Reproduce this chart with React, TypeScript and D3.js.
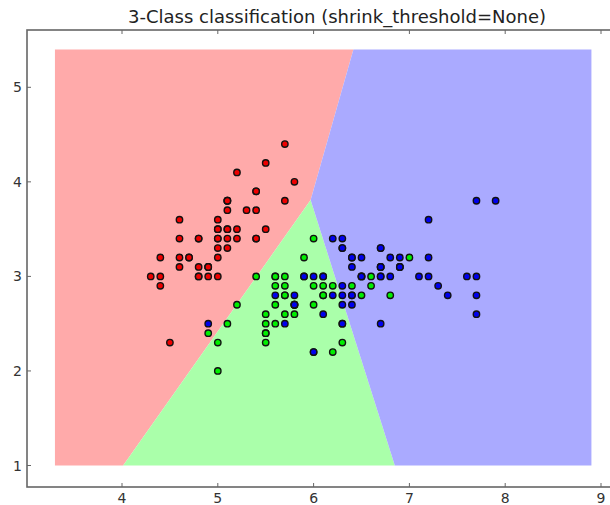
import React from "react";
import * as d3 from "d3";

// Iris data: sepal length, sepal width
const setosaX = [5.1,4.9,4.7,4.6,5.0,5.4,4.6,5.0,4.4,4.9,5.4,4.8,4.8,4.3,5.8,5.7,5.4,5.1,5.7,5.1,5.4,5.1,4.6,5.1,4.8,5.0,5.0,5.2,5.2,4.7,4.8,5.4,5.2,5.5,4.9,5.0,5.5,4.9,4.4,5.1,5.0,4.5,4.4,5.0,5.1,4.8,5.1,4.6,5.3,5.0];
const setosaY = [3.5,3.0,3.2,3.1,3.6,3.9,3.4,3.4,2.9,3.1,3.7,3.4,3.0,3.0,4.0,4.4,3.9,3.5,3.8,3.8,3.4,3.7,3.6,3.3,3.4,3.0,3.4,3.5,3.4,3.2,3.1,3.4,4.1,4.2,3.1,3.2,3.5,3.1,3.0,3.4,3.5,2.3,3.2,3.5,3.8,3.0,3.8,3.2,3.7,3.3];
const versicolorX = [7.0,6.4,6.9,5.5,6.5,5.7,6.3,4.9,6.6,5.2,5.0,5.9,6.0,6.1,5.6,6.7,5.6,5.8,6.2,5.6,5.9,6.1,6.3,6.1,6.4,6.6,6.8,6.7,6.0,5.7,5.5,5.5,5.8,6.0,5.4,6.0,6.7,6.3,5.6,5.5,5.5,6.1,5.8,5.0,5.6,5.7,5.7,6.2,5.1,5.7];
const versicolorY = [3.2,3.2,3.1,2.3,2.8,2.8,3.3,2.4,2.9,2.7,2.0,3.0,2.2,2.9,2.9,3.1,3.0,2.7,2.2,2.5,3.2,2.8,2.5,2.8,2.9,3.0,2.8,3.0,2.9,2.6,2.4,2.4,2.7,2.7,3.0,3.4,3.1,2.3,3.0,2.5,2.6,3.0,2.6,2.3,2.7,3.0,2.9,2.9,2.5,2.8];
const virginicaX = [6.3,5.8,7.1,6.3,6.5,7.6,4.9,7.3,6.7,7.2,6.5,6.4,6.8,5.7,5.8,6.4,6.5,7.7,7.7,6.0,6.9,5.6,7.7,6.3,6.7,7.2,6.2,6.1,6.4,7.2,7.4,7.9,6.4,6.3,6.1,7.7,6.3,6.4,6.0,6.9,6.7,6.9,5.8,6.8,6.7,6.7,6.3,6.5,6.2,5.9];
const virginicaY = [3.3,2.7,3.0,2.9,3.0,3.0,2.5,2.9,2.5,3.6,3.2,2.7,3.0,2.5,2.8,3.2,3.0,3.8,2.6,2.2,3.2,2.8,2.8,2.7,3.3,3.2,2.8,3.0,2.8,3.0,2.8,3.8,2.8,2.8,2.6,3.0,3.4,3.1,3.0,3.1,3.1,3.1,2.7,3.2,3.3,3.0,2.5,3.0,3.4,3.0];

const xTicks = [4, 5, 6, 7, 8, 9];
const yTicks = [1, 2, 3, 4, 5];
const title = "3-Class classification (shrink_threshold=None)";
const meshBounds = [3.3, 1.0, 8.9, 5.4]; // x_min, y_min, x_max, y_max
const lightColors = ["#FFAAAA", "#AAFFAA", "#AAAAFF"];
const boldColors = ["#EE0000", "#00EE00", "#0000EE"];

const classes = [
  { xs: setosaX, ys: setosaY },
  { xs: versicolorX, ys: versicolorY },
  { xs: virginicaX, ys: virginicaY },
];

export default function App() {
  const W = 610, H = 505;
  const x = d3.scaleLinear().domain([4, 9]).range([122, 601]);
  const y = d3.scaleLinear().domain([1, 5]).range([465.5, 87.3]);
  const left = 27, right = 660, top = 30, bottom = 487;

  const centroids = classes.map((c) => [d3.mean(c.xs) as number, d3.mean(c.ys) as number]);
  const vor = d3.Delaunay.from(centroids).voronoi(meshBounds as [number, number, number, number]);

  const tickLen = 4;
  const axisColor = "#666";
  const font = "DejaVu Sans, sans-serif";

  return (
    <div style={{ position: "fixed", left: 0, top: 0 }}>
      <svg width={W} height={H} style={{ display: "block", background: "#fff" }}>
        {centroids.map((_, i) => {
          const poly = vor.cellPolygon(i);
          if (!poly) return null;
          const d = "M" + poly.map((p) => `${x(p[0])},${y(p[1])}`).join("L") + "Z";
          return <path key={i} d={d} fill={lightColors[i]} />;
        })}
        {classes.map((c, ci) =>
          c.xs.map((vx, i) => (
            <circle
              key={`${ci}-${i}`}
              cx={x(vx)}
              cy={y(c.ys[i])}
              r={3.2}
              fill={boldColors[ci]}
              stroke="#111"
              strokeWidth={1.4}
            />
          ))
        )}
        <rect x={left} y={top} width={right - left} height={bottom - top} fill="none" stroke={axisColor} strokeWidth={1.6} />
        {xTicks.map((t) => (
          <g key={"x" + t}>
            <line x1={x(t)} x2={x(t)} y1={bottom} y2={bottom - tickLen} stroke={axisColor} />
            <line x1={x(t)} x2={x(t)} y1={top} y2={top + tickLen} stroke={axisColor} />
            <text x={x(t)} y={503} textAnchor="middle" fontFamily={font} fontSize={14} fill="#333">
              {t}
            </text>
          </g>
        ))}
        {yTicks.map((t) => (
          <g key={"y" + t}>
            <line x1={left} x2={left + tickLen} y1={y(t)} y2={y(t)} stroke={axisColor} />
            <text x={22} y={y(t) + 5} textAnchor="end" fontFamily={font} fontSize={14} fill="#333">
              {t}
            </text>
          </g>
        ))}
        <text x={337} y={23} textAnchor="middle" fontFamily={font} fontSize={18} fill="#222">
          {title}
        </text>
      </svg>
    </div>
  );
}
